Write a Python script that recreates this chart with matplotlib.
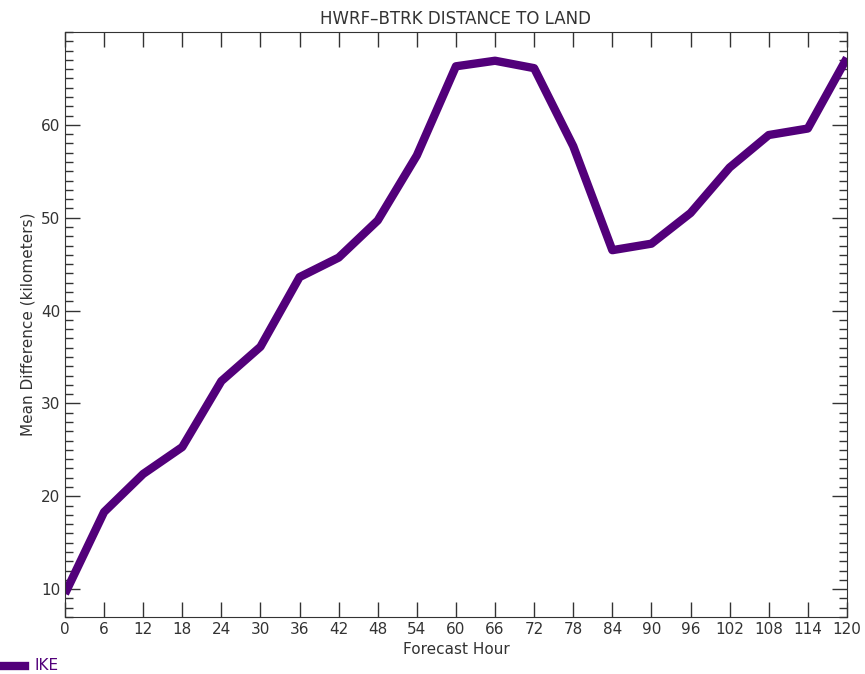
import numpy as np
import matplotlib.pyplot as plt
from matplotlib.ticker import MultipleLocator

hours = [0, 6, 12, 18, 24, 30, 36, 42, 48, 54, 60, 66, 72, 78, 84, 90, 96, 102, 108, 114, 120]
ike = [9.5, 18.3, 22.4, 25.3, 32.4, 36.1, 43.6, 45.7, 49.7, 56.7, 66.3, 66.9, 66.1, 57.7,
       46.5, 47.2, 50.5, 55.4, 58.9, 59.6, 67.2]
yticks = [10, 20, 30, 40, 50, 60]

color = '#52007a'

fig = plt.figure(figsize=(8.65, 6.74), dpi=100)
ax = fig.add_axes([0.0751, 0.0846, 0.904, 0.868])

ax.plot(hours, ike, color=color, linewidth=6, solid_capstyle='butt')

ax.set_xlim(0, 120)
ax.set_ylim(7, 70)
ax.xaxis.set_major_locator(MultipleLocator(6))
ax.set_yticks(yticks)
ax.yaxis.set_minor_locator(MultipleLocator(1))
ax.tick_params(which='both', direction='in', top=True, right=True, labelsize=11, colors='#333333')
ax.tick_params(which='major', length=11, width=1)
ax.tick_params(which='minor', length=6, width=1)
for s in ax.spines.values():
    s.set_color('#333333')

ax.set_title('HWRF\u2013BTRK DISTANCE TO LAND', fontsize=12, color='#333333', pad=6)
ax.set_xlabel('Forecast Hour', fontsize=11, color='#333333')
ax.set_ylabel('Mean Difference (kilometers)', fontsize=11, color='#333333')

# legend drawn in figure coords like the original
fig.lines.append(plt.Line2D([0.0, 0.029], [0.0125, 0.0125], transform=fig.transFigure,
                            color=color, linewidth=6))
fig.text(0.040, 0.012, 'IKE', color=color, fontsize=11, va='center')

plt.savefig('out.png', dpi=100)
